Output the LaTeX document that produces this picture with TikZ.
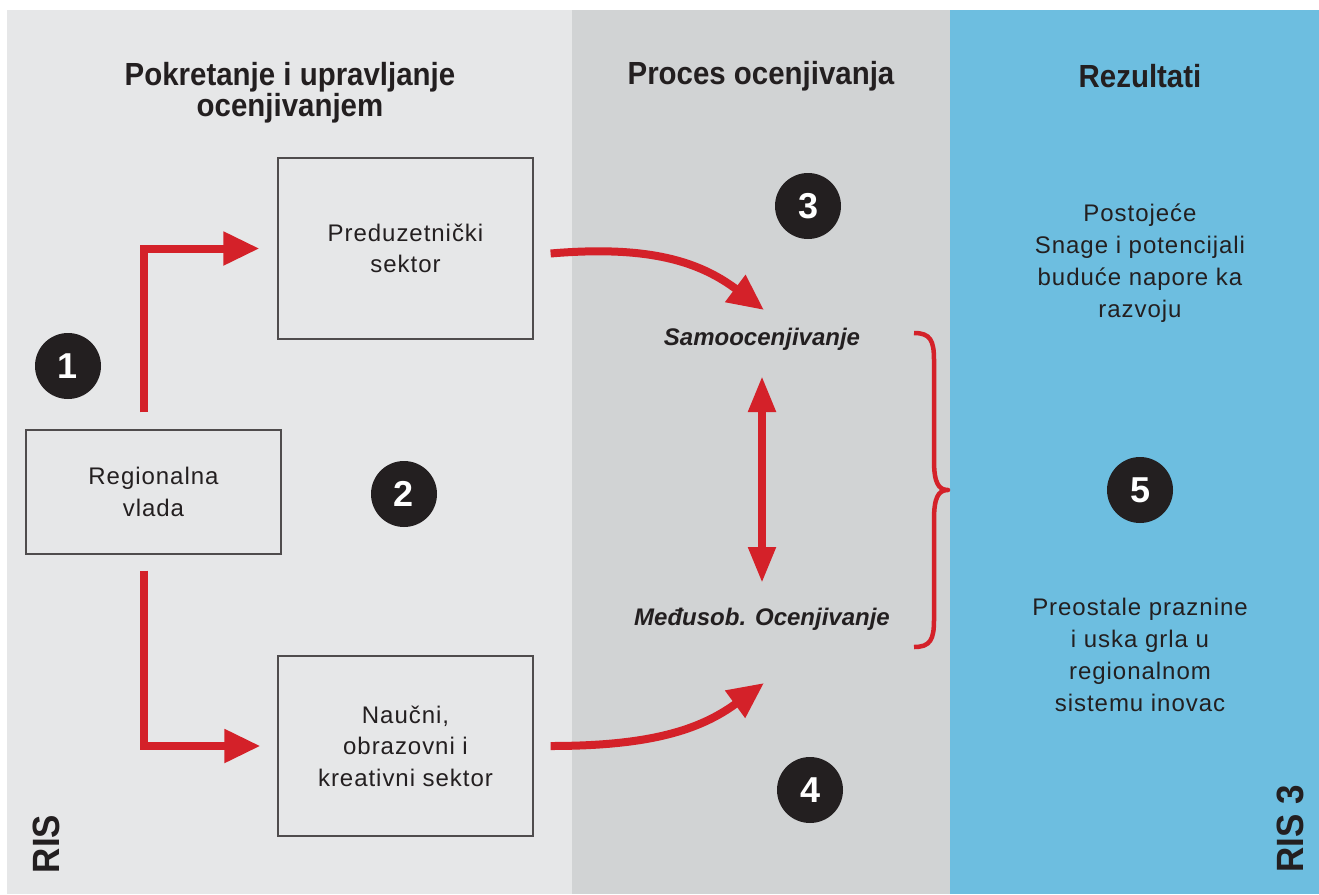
\documentclass[tikz,border=0pt]{standalone}
\usepackage{fontspec}
\setmainfont{Liberation Sans}
\newfontfamily\bodyf[LetterSpace=4]{Liberation Sans}
\newfontfamily\titlef[FakeStretch=0.92]{Liberation Sans}
\usetikzlibrary{arrows.meta}
\definecolor{lgray}{HTML}{E6E7E8}
\definecolor{mgray}{HTML}{D1D3D4}
\definecolor{rblue}{HTML}{6DBEE0}
\definecolor{rred}{HTML}{D42129}
\definecolor{txt}{HTML}{231F20}
\tikzset{
  box/.style={draw=txt!80, line width=1.2pt, fill=none, minimum width=255pt, align=center, text=txt, font=\bodyf\fontsize{24}{31.5}\selectfont},
  title/.style={text=txt, align=center, font=\titlef\fontsize{32}{31}\selectfont\bfseries},
  num/.style={circle, fill=txt, minimum size=66pt, inner sep=0pt, text=white, font=\fontsize{36}{36}\selectfont\bfseries},
  ra/.style={draw=rred, line width=8pt, -{Triangle[length=36pt,width=32pt]}},
  rda/.style={draw=rred, line width=8pt, {Triangle[length=36pt,width=26pt]}-{Triangle[length=36pt,width=26pt]}},
  proc/.style={text=txt, font=\fontsize{24}{26}\selectfont\bfseries\itshape},
  res/.style={text=txt, align=center, font=\bodyf\fontsize{24}{32}\selectfont},
  side/.style={text=txt, rotate=90, font=\titlef\fontsize{38}{38}\selectfont\bfseries}
}
\begin{document}
\begin{tikzpicture}[x=1pt,y=-1pt]
\useasboundingbox (0,0) rectangle (1319,894);
\fill[white] (0,0) rectangle (1319,894);
\fill[lgray] (7,10) rectangle (572,894);
\fill[mgray] (572,10) rectangle (950,894);
\fill[rblue] (950,10) rectangle (1319,894);

\node[title] (t1) at (290,93) {Pokretanje i upravljanje\\ocenjivanjem};
\node[title] (t2) at (761,76) {Proces ocenjivanja};
\node[title] (t3) at (1140,76) {Rezultati};

\node[box, minimum height=181pt] (pred) at (405.5,248.5) {Preduzetnički\\sektor};
\node[box, minimum height=124pt] (reg) at (153.5,492) {Regionalna\\vlada};
\node[box, minimum height=180pt] (nau) at (405.5,746) {Naučni,\\obrazovni i\\kreativni sektor};

\node[num] (n1) at (68,366) {1};
\node[num] (n2) at (404,494) {2};
\node[num] (n3) at (808,206) {3};
\node[num] (n4) at (810,790) {4};
\node[num] (n5) at (1140,490) {5};

\node[proc] (samo) at (762,339) {Samoocenjivanje};
\node[proc] (med) at (762,619) {Međusob. Ocenjivanje};

\coordinate (a1) at (764,310);
\coordinate (a2) at (764,683);
\coordinate (d1) at (762,376);
\coordinate (d2) at (762,583);

\draw[ra] ([shift={(-10,-17)}]reg.north) |- ([xshift=-18]pred.west);
\draw[ra] ([shift={(-10,16)}]reg.south) |- ([xshift=-17]nau.west);
\draw[ra] ([xshift=17,yshift=-5]pred.east) .. controls (650,245) and (700,262) .. (a1);
\draw[ra] ([xshift=17]nau.east) .. controls (650,746) and (700,730) .. (a2);
\draw[rda] (d1) -- (d2);

\draw[rred, line width=4.5pt, line join=round] (914,333) .. controls (930,333) and (934,340) .. (934,360)
  -- (934,460) .. controls (934,482) and (938,490) .. (948,490)
  .. controls (938,490) and (934,498) .. (934,520)
  -- (934,620) .. controls (934,640) and (930,647) .. (914,647);

\node[res] (r1) at (1140,263) {Postojeće\\Snage i potencijali\\buduće napore ka\\razvoju};
\node[res] (r2) at (1140,655) {Preostale praznine\\i uska grla u\\regionalnom\\sistemu inovac};

\node[side] (s1) at (46,844) {RIS};
\node[side] (s2) at (1290,829) {RIS 3};
\end{tikzpicture}
\end{document}
